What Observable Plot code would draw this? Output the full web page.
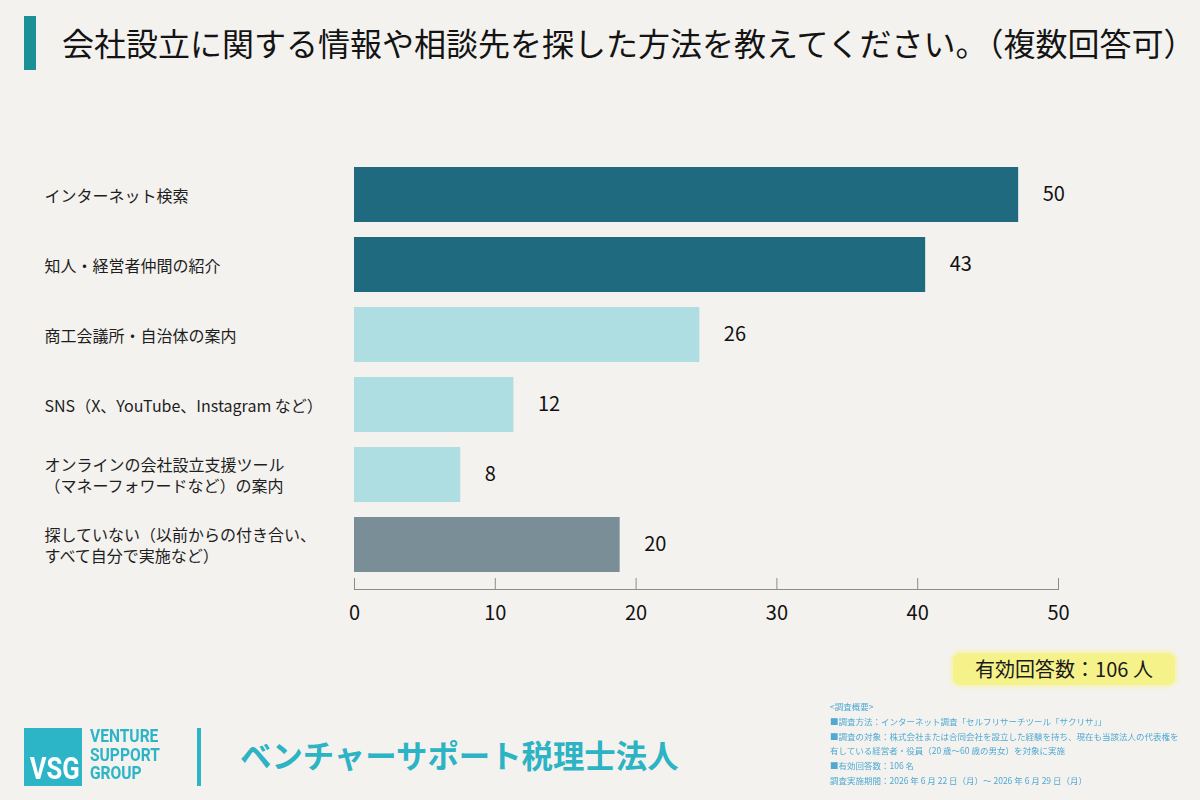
<!DOCTYPE html>
<html lang="ja">
<head>
<meta charset="utf-8">
<script src="https://cdn.jsdelivr.net/npm/d3@7"></script>
<script src="https://cdn.jsdelivr.net/npm/@observablehq/plot@0.6"></script>
<style>
  html, body { margin: 0; padding: 0; background: #f4f2ef; }
  #page {
    position: relative; width: 1200px; height: 800px; overflow: hidden;
    background: #f4f2ef; font-family: "Noto Sans CJK JP", "Noto Sans", sans-serif; color: #1a1a1a;
  }
  #chart { position: absolute; left: 0; top: 0; }
  .title-bar { position: absolute; left: 24px; top: 16px; width: 12px; height: 54px; background: #1b9096; }
  .title { position: absolute; left: 62px; top: 22px; font-size: 32px; line-height: 40px; white-space: nowrap; color: #141414; }
  .badge {
    position: absolute; left: 953px; top: 653px; width: 222px; height: 32px;
    background: #f6f28a; border-radius: 7px; font-size: 20px; line-height: 32px;
    text-align: center; color: #1a1a1a; box-shadow: 0 0 4px 2px rgba(246,242,138,0.6);
  }
  .logo-box { position: absolute; left: 24px; top: 728px; width: 58px; height: 58px; background: #2cb5c6; }
  .logo-box span {
    position: absolute; left: 0; width: 58px; top: 24px; text-align: center;
    color: #fff; font-family: Roboto, sans-serif; font-weight: 700; font-size: 32px;
    transform: scaleX(0.8); transform-origin: center; line-height: 32px;
  }
  .logo-words { position: absolute; left: 90px; top: 727px; color: #2cb5c6; font-family: Roboto, sans-serif; font-weight: 700; }
  .logo-words div { font-size: 19px; height: 18.5px; line-height: 18.5px; transform: scaleX(0.82); transform-origin: left center; white-space: nowrap; }
  .divider { position: absolute; left: 197px; top: 728px; width: 4px; height: 58px; background: #2cb5c6; }
  .firm { position: absolute; left: 240px; top: 733px; font-size: 31.4px; font-weight: 700; color: #2cb3c4; line-height: 44px; white-space: nowrap; }
  .notes {
    position: absolute; left: 830px; top: 699px; font-size: 8.5px; line-height: 14.8px;
    color: #4fa9d2; white-space: nowrap; filter: blur(0.3px);
  }
</style>
</head>
<body>
<div id="page">
  <div class="title-bar"></div>
  <div class="title">会社設立に関する情報や相談先を探した方法を教えてください。（複数回答可）</div>
  <div id="chart"></div>
  <div class="badge">有効回答数：106 人</div>
  <div class="logo-box"><span>VSG</span></div>
  <div class="logo-words"><div>VENTURE</div><div>SUPPORT</div><div>GROUP</div></div>
  <div class="divider"></div>
  <div class="firm">ベンチャーサポート税理士法人</div>
  <div class="notes">
    &lt;調査概要&gt;<br>
    ■調査方法：インターネット調査「セルフリサーチツール「サクリサ」」<br>
    ■調査の対象：株式会社または合同会社を設立した経験を持ち、現在も当該法人の代表権を<br>
    有している経営者・役員（20 歳～60 歳の男女）を対象に実施<br>
    ■有効回答数：106 名<br>
    調査実施期間：2026 年 6 月 22 日（月）～ 2026 年 6 月 29 日（月）
  </div>
</div>
<script>
// Answer options (top to bottom), respondent counts and colour groups
const categories = [
  "インターネット検索",
  "知人・経営者仲間の紹介",
  "商工会議所・自治体の案内",
  "SNS（X、YouTube、Instagram など）",
  "オンラインの会社設立支援ツール\n（マネーフォワードなど）の案内",
  "探していない（以前からの付き合い、\nすべて自分で実施など）"
];
const counts = [50, 43, 26, 12, 8, 20];
const groups = ["主要", "主要", "その他", "その他", "その他", "なし"];
const totalRespondents = 106;
const xTicks = [0, 10, 20, 30, 40, 50];

const groupNames = ["主要", "その他", "なし"];
const groupColors = ["#1f6a7e", "#aedde2", "#7a8e97"];

// Bars are drawn as the share of respondents (%), labelled with the count
const rows = categories.map((label, i) => ({
  label,
  count: counts[i],
  pct: counts[i] / totalRespondents * 100,
  group: groups[i]
}));

const W = 1200, H = 650;
const mTop = 151, mBottom = 61;
const frameH = H - mTop - mBottom;

const chart = Plot.plot({
  width: W,
  height: H,
  marginLeft: 354,
  marginRight: 142,
  marginTop: mTop,
  marginBottom: mBottom,
  style: { background: "transparent", fontFamily: "'Noto Sans CJK JP', 'Noto Sans', sans-serif", color: "#1a1a1a" },
  x: { domain: [0, 50], ticks: xTicks },
  y: { domain: categories, padding: 0.212, axis: null },
  color: { domain: groupNames, range: groupColors },
  marks: [
    Plot.barX(rows, { x: "pct", y: "label", fill: "group" }),
    Plot.text(rows, {
      x: "pct", y: "label", text: d => String(d.count),
      dx: 24, textAnchor: "start", fontSize: 20, fill: "#111"
    }),
    Plot.text(rows, {
      y: "label", text: "label", frameAnchor: "left", dx: -310,
      textAnchor: "start", fontSize: 16, lineHeight: 1.3, fill: "#1e1e1e"
    }),
    Plot.ruleX(xTicks, { x: d => d, insetTop: frameH - 11, stroke: "#8c8c8c" }),
    Plot.frame({ anchor: "bottom", stroke: "#8c8c8c" }),
    Plot.axisX({ ticks: xTicks, tickSize: 0, tickPadding: 16, fontSize: 20, tickFormat: d => String(d), label: null, fill: "#111" })
  ]
});

document.getElementById("chart").appendChild(chart);
</script>
</body>
</html>
